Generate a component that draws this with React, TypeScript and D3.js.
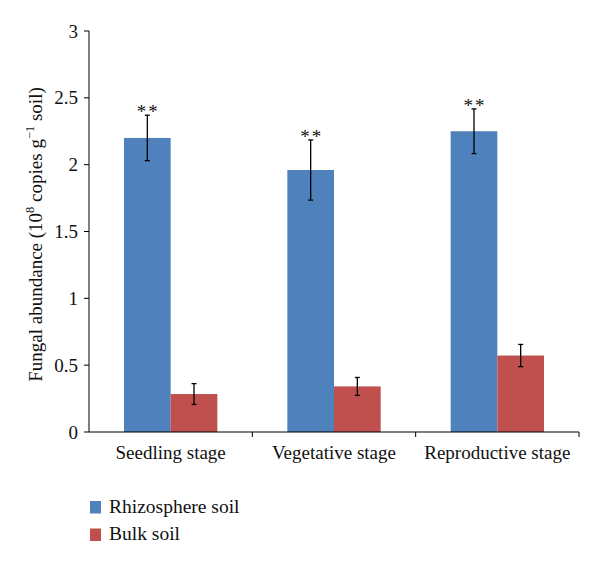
import * as d3 from 'd3';

const categories = ['Seedling stage', 'Vegetative stage', 'Reproductive stage'];
const seriesNames = ['Rhizosphere soil', 'Bulk soil'];
const rhizosphere = [2.2, 1.96, 2.25];
const rhizosphereErr = [0.17, 0.225, 0.167];
const bulk = [0.284, 0.341, 0.572];
const bulkErr = [0.078, 0.067, 0.083];
const significance = ['**', '**', '**'];
const yTicks = [0, 0.5, 1, 1.5, 2, 2.5, 3];

const COLORS = ['#4F81BD', '#C0504D'];
const TXT = { fontFamily: "'Liberation Serif'", fill: '#111' };

const W = 600;
const H = 567;
const M = { left: 89, right: 21, top: 31, bottom: 135 };

export default function App() {
  const x = d3
    .scaleBand<string>()
    .domain(categories)
    .range([M.left, W - M.right]);
  const inner = d3
    .scaleBand<number>()
    .domain([0, 1])
    .range([0, x.bandwidth()])
    .paddingOuter(0.75)
    .paddingInner(0);
  const y = d3.scaleLinear().domain([0, 3]).range([H - M.bottom, M.top]);

  const series = [
    { values: rhizosphere, errs: rhizosphereErr },
    { values: bulk, errs: bulkErr },
  ];

  const bottom = y(0);

  return (
    <svg
      width={W}
      height={H}
      style={{ position: 'absolute', left: 0, top: 0, background: '#fff' }}
    >
      {series.map((s, si) =>
        categories.map((c, ci) => {
          const bx = x(c)! + inner(si)!;
          const v = s.values[ci];
          return (
            <rect
              key={`${si}-${ci}`}
              x={bx}
              y={y(v)}
              width={inner.bandwidth()}
              height={bottom - y(v)}
              fill={COLORS[si]}
            />
          );
        }),
      )}
      {series.map((s, si) =>
        categories.map((c, ci) => {
          const cx = x(c)! + inner(si)! + inner.bandwidth() / 2;
          const v = s.values[ci];
          const e = s.errs[ci];
          const y1 = y(v + e);
          const y2 = y(v - e);
          return (
            <g key={`e${si}-${ci}`} stroke="#000" strokeWidth={1.3}>
              <line x1={cx} x2={cx} y1={y1} y2={y2} />
              <line x1={cx - 2.5} x2={cx + 2.5} y1={y1} y2={y1} />
              <line x1={cx - 2.5} x2={cx + 2.5} y1={y2} y2={y2} />
            </g>
          );
        }),
      )}
      {categories.map((c, ci) => {
        const cx = x(c)! + inner(0)! + inner.bandwidth() / 2;
        return (
          <text
            key={`s${ci}`}
            x={cx + 1}
            y={y(rhizosphere[ci] + rhizosphereErr[ci]) + 3}
            textAnchor="middle"
            fontSize={19}
            letterSpacing={2}
            style={TXT}
          >
            {significance[ci]}
          </text>
        );
      })}
      {/* y axis */}
      <line x1={M.left} x2={M.left} y1={y(3)} y2={bottom} stroke="#000" strokeWidth={1} />
      {yTicks.map(t => (
        <g key={t}>
          <line x1={M.left - 5} x2={M.left} y1={y(t)} y2={y(t)} stroke="#000" />
          <text x={M.left - 11} y={y(t)} dy="0.35em" textAnchor="end" fontSize={19} style={TXT}>
            {t}
          </text>
        </g>
      ))}
      {/* x axis */}
      <line x1={M.left} x2={W - M.right} y1={bottom} y2={bottom} stroke="#000" strokeWidth={1.2} />
      {categories.map((c, i) => (
        <line
          key={`t${i}`}
          x1={x(c)! + x.bandwidth()}
          x2={x(c)! + x.bandwidth()}
          y1={bottom}
          y2={bottom + 5}
          stroke="#000"
        />
      ))}
      {categories.map(c => (
        <text
          key={c}
          x={x(c)! + x.bandwidth() / 2}
          y={bottom + 27}
          textAnchor="middle"
          fontSize={19}
          style={TXT}
        >
          {c}
        </text>
      ))}
      <text
        transform={`translate(42, ${(y(3) + bottom) / 2 + 3}) rotate(-90)`}
        textAnchor="middle"
        fontSize={19}
        style={TXT}
      >
        Fungal abundance (10
        <tspan dy={-8} fontSize={12.5}>8</tspan>
        <tspan dy={8}> copies g</tspan>
        <tspan dy={-8} fontSize={12.5}>−1</tspan>
        <tspan dy={8}> soil)</tspan>
      </text>
      {seriesNames.map((n, i) => (
        <g key={n} transform={`translate(90, ${501 + i * 27.5})`}>
          <rect x={0} y={0} width={11} height={12.5} fill={COLORS[i]} />
          <text x={19} y={11.5} fontSize={19.5} style={TXT}>
            {n}
          </text>
        </g>
      ))}
    </svg>
  );
}
